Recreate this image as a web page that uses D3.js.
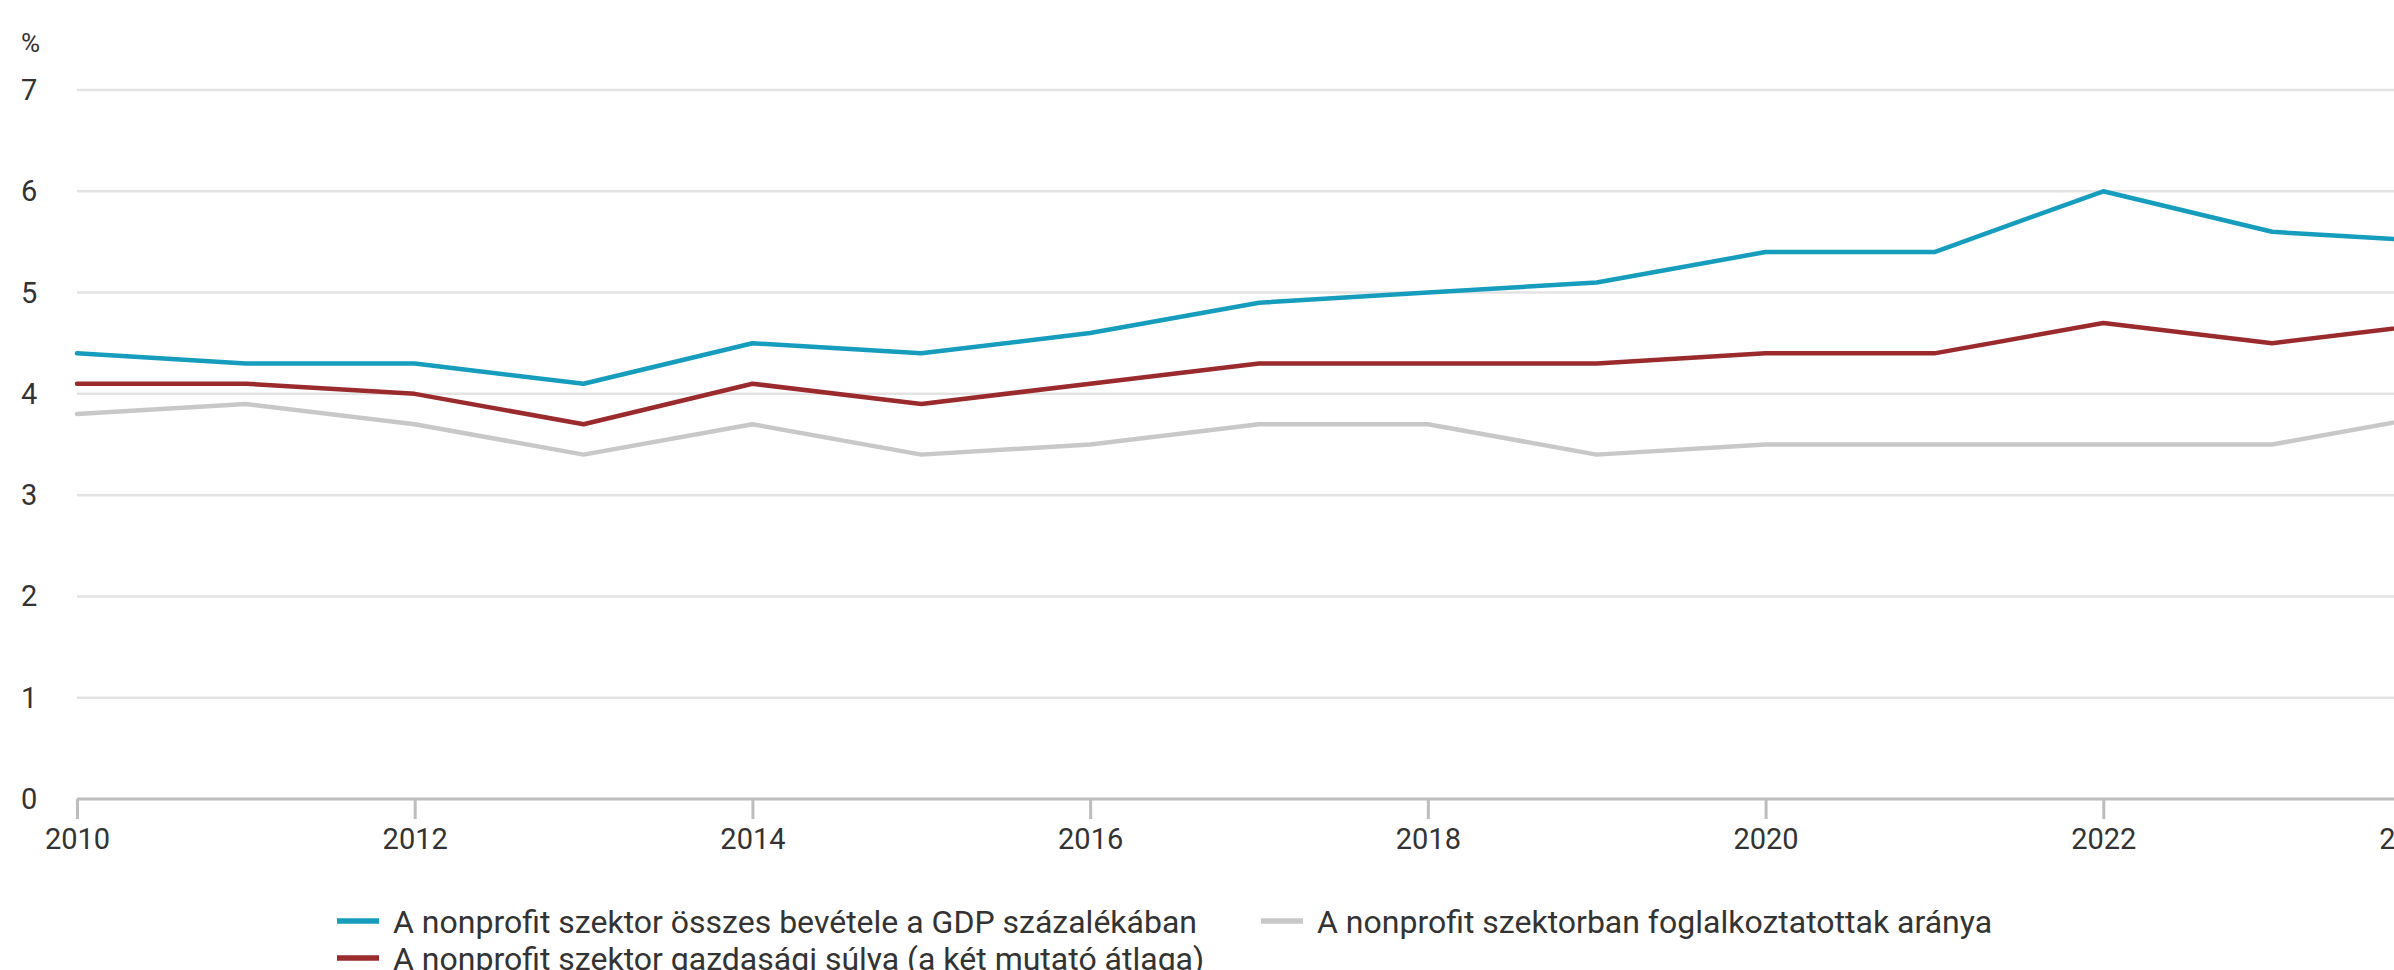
<!DOCTYPE html>
<html>
<head>
<meta charset="utf-8">
<script src="https://cdn.jsdelivr.net/npm/d3@7"></script>
<style>
  html, body { margin: 0; padding: 0; background: #fff; overflow: hidden; }
  svg { display: block; font-family: Roboto, "Noto Sans", sans-serif; }
</style>
</head>
<body>
<svg id="chart" width="2394" height="970"></svg>
<script>
// ---- data ----
const years = [2010, 2011, 2012, 2013, 2014, 2015, 2016, 2017, 2018, 2019, 2020, 2021, 2022, 2023, 2024];
const revenueGDP = [4.4, 4.3, 4.3, 4.1, 4.5, 4.4, 4.6, 4.9, 5.0, 5.1, 5.4, 5.4, 6.0, 5.6, 5.5];
const employment = [3.8, 3.9, 3.7, 3.4, 3.7, 3.4, 3.5, 3.7, 3.7, 3.4, 3.5, 3.5, 3.5, 3.5, 3.8];
const economicWeight = [4.1, 4.1, 4.0, 3.7, 4.1, 3.9, 4.1, 4.3, 4.3, 4.3, 4.4, 4.4, 4.7, 4.5, 4.7];
const seriesNames = [
  "A nonprofit szektor összes bevétele a GDP százalékában",
  "A nonprofit szektorban foglalkoztatottak aránya",
  "A nonprofit szektor gazdasági súlya (a két mutató átlaga)"
];
const xTicks = [2010, 2012, 2014, 2016, 2018, 2020, 2022, 2024];
const yTicks = [0, 1, 2, 3, 4, 5, 6, 7];
const yUnit = "%";

// ---- styles ----
const colors = { revenue: "#169cbd", employment: "#c8c8c8", weight: "#9b2a2d" };
const textColor = "#333333";
const fontSize = 29;
const legendFontSize = 32;

const svg = d3.select("#chart");
const x = d3.scaleLinear().domain([2010, 2024]).range([77, 2441]);
const y = d3.scaleLinear().domain([0, 7]).range([799, 90]);

// gridlines
svg.append("g").selectAll("line")
  .data(yTicks.filter(d => d > 0))
  .join("line")
  .attr("x1", 77).attr("x2", 2500)
  .attr("y1", d => y(d)).attr("y2", d => y(d))
  .attr("stroke", "#e3e3e3").attr("stroke-width", 2.5);

// y labels
svg.append("g").selectAll("text")
  .data(yTicks)
  .join("text")
  .attr("x", 21).attr("y", d => y(d) + 10)
  .attr("fill", textColor).attr("font-size", fontSize)
  .text(d => d);

svg.append("text")
  .attr("x", 21).attr("y", 52)
  .attr("fill", textColor).attr("font-size", 26)
  .text(yUnit);

// x axis
const xAxis = d3.axisBottom(x).tickValues(xTicks).tickFormat(d3.format("d")).tickSize(20).tickPadding(10);
const gx = svg.append("g").attr("transform", `translate(0,${y(0)})`).call(xAxis);
gx.select(".domain").attr("stroke", "#bdbdbd").attr("stroke-width", 3).attr("d", `M77,0H2500`);
gx.selectAll(".tick line").attr("stroke", "#bdbdbd").attr("stroke-width", 3);
gx.selectAll(".tick text")
  .attr("fill", textColor).attr("font-size", fontSize)
  .attr("font-family", "Roboto, 'Noto Sans', sans-serif")
  .attr("dy", null).attr("y", 50);
gx.selectAll(".tick").filter(d => d === 2024).select("text")
  .attr("text-anchor", "end").attr("x", 3);

// lines
const line = d3.line().x((d, i) => x(years[i])).y(d => y(d));
const series = [
  { values: employment, color: colors.employment },
  { values: economicWeight, color: colors.weight },
  { values: revenueGDP, color: colors.revenue }
];
svg.append("g").selectAll("path")
  .data(series)
  .join("path")
  .attr("d", d => line(d.values))
  .attr("fill", "none")
  .attr("stroke", d => d.color)
  .attr("stroke-width", 4.5)
  .attr("stroke-linejoin", "round")
  .attr("stroke-linecap", "round");

// legend
const legendItems = [
  { name: seriesNames[0], color: colors.revenue, x: 337, y: 921 },
  { name: seriesNames[1], color: colors.employment, x: 1261, y: 921 },
  { name: seriesNames[2], color: colors.weight, x: 337, y: 958 }
];
const lg = svg.append("g").selectAll("g")
  .data(legendItems)
  .join("g")
  .attr("transform", d => `translate(${d.x},${d.y})`);
lg.append("line")
  .attr("x1", 0).attr("x2", 42).attr("y1", 0).attr("y2", 0)
  .attr("stroke", d => d.color).attr("stroke-width", 5.5);
lg.append("text")
  .attr("x", 56).attr("y", 12)
  .attr("fill", textColor).attr("font-size", legendFontSize)
  .text(d => d.name);
</script>
</body>
</html>
